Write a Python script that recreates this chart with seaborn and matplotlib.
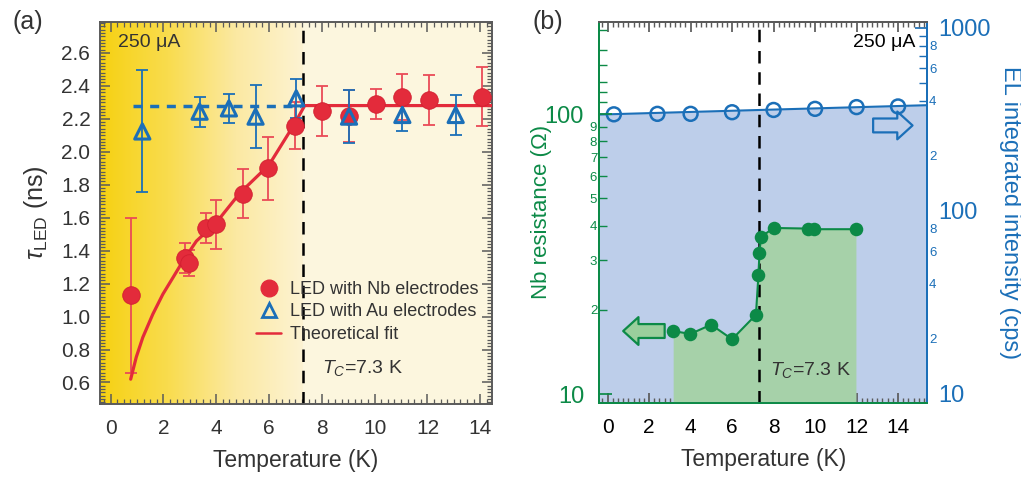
import matplotlib
matplotlib.use("Agg")
import matplotlib.pyplot as plt
import numpy as np
import seaborn as sns
from matplotlib.colors import LinearSegmentedColormap
from matplotlib.lines import Line2D
from matplotlib.ticker import MultipleLocator, FixedLocator, FixedFormatter

# ---- panel (a): LED lifetime vs temperature ----
nb_T = [0.78, 2.8, 2.97, 3.6, 4.0, 5.0, 5.95, 7.0, 8.02, 9.03, 10.04, 11.05, 12.06, 14.08]
nb_tau = [1.13, 1.357, 1.323, 1.538, 1.559, 1.746, 1.90, 2.159, 2.248, 2.217, 2.29, 2.334, 2.314, 2.334]
nb_err = [0.47, 0.09, 0.08, 0.09, 0.15, 0.15, 0.19, 0.14, 0.15, 0.16, 0.09, 0.14, 0.15, 0.18]

au_T = [1.2, 3.37, 4.48, 5.49, 7.03, 9.03, 11.05, 13.07]
au_tau = [2.123, 2.243, 2.263, 2.213, 2.324, 2.213, 2.223, 2.223]
au_err = [0.37, 0.09, 0.09, 0.19, 0.12, 0.16, 0.10, 0.12]
au_level_T = [0.85, 7.2]
au_level = [2.278, 2.278]

fit_T = [0.76, 0.97, 1.22, 1.6, 1.98, 2.36, 2.74, 3.25, 4.0, 4.9, 6.0, 6.97, 7.35, 14.45]
fit_tau = [0.62, 0.753, 0.874, 1.015, 1.136, 1.236, 1.337, 1.458, 1.57, 1.75, 1.92, 2.17, 2.28, 2.28]

TC = 7.3

# ---- panel (b): Nb resistance and EL intensity ----
res_T = [3.16, 3.99, 4.99, 6.0, 7.15, 7.27, 7.32, 7.39, 8.0, 9.68, 9.95, 11.97]
res_ohm = [16.8, 16.4, 17.7, 15.7, 19.2, 26.6, 31.9, 36.4, 39.2, 39.0, 38.8, 38.8]

el_T = [0.3, 2.4, 4.0, 6.0, 8.0, 10.0, 12.0, 14.0]
el_cps = [337, 339, 339, 346, 356, 361, 369, 372]
el_line_T = [-0.4, 15.4]
el_line_cps = [336, 378]

RED = "#E32B3B"
RED_ERR = "#EA4B57"
BLUE = "#1B6FB8"
GREEN = "#0C8A47"
GREEN_FILL = "#A6D1A9"
BLUE_FILL = "#BDCEEA"
DARK = "#333333"
SPINE = "#5A5A5A"

sns.set_theme(style="ticks")
plt.rcParams["font.family"] = ["Liberation Sans", "DejaVu Sans"]
plt.rcParams["mathtext.fontset"] = "custom"
plt.rcParams["mathtext.rm"] = "Liberation Sans"
plt.rcParams["mathtext.it"] = "Liberation Sans:italic"
plt.rcParams["mathtext.bf"] = "Liberation Sans:bold"

fig = plt.figure(figsize=(10.21, 4.78), dpi=100)

# ================= panel (a) =================
ax = fig.add_axes([0.098, 0.155, 0.384, 0.800])
xlo, xhi = -0.4, 14.45
ylo, yhi = 0.47, 2.79
ax.set_xlim(xlo, xhi)
ax.set_ylim(ylo, yhi)

# yellow gradient background up to Tc, cream after
cmap = LinearSegmentedColormap.from_list(
    "sun", ["#F6D112", "#F9DC4E", "#FBE9A2", "#FDF3D3"])
ax.imshow(np.linspace(0, 1, 256)[None, :], extent=[xlo, TC, ylo, yhi],
          cmap=cmap, aspect="auto", zorder=0)
ax.axvspan(TC, xhi, color="#FCF6DE", zorder=0, lw=0)
ax.axvline(TC, color="black", lw=1.8, ls=(0, (5, 3.5)), zorder=2)

ax.errorbar(nb_T, nb_tau, yerr=nb_err, fmt="none", ecolor=RED_ERR,
            elinewidth=1.3, capsize=4.5, capthick=1.3, zorder=3)
sns.lineplot(x=fit_T, y=fit_tau, ax=ax, color=RED, lw=2.3, sort=False,
             estimator=None, zorder=4)
ax.errorbar(au_T, au_tau, yerr=au_err, fmt="none", ecolor=BLUE,
            elinewidth=1.3, capsize=4.5, capthick=1.3, zorder=5)
sns.lineplot(x=au_level_T, y=au_level, ax=ax, color=BLUE, lw=2.5,
             ls=(0, (2.6, 2.2)), estimator=None, zorder=5)
sns.scatterplot(x=nb_T, y=nb_tau, ax=ax, color=RED, s=160,
                edgecolor="#D21F30", linewidth=0.6, zorder=6)
sns.scatterplot(x=au_T, y=au_tau, ax=ax, marker="^", s=120,
                facecolor="none", edgecolor=BLUE, linewidth=2.2, zorder=7)

ax.text(0.046, 0.945, "250 μA", transform=ax.transAxes, fontsize=14,
        color=DARK, va="center", ha="left")
ax.text(0.566, 0.094, "$T_C$=7.3 K", transform=ax.transAxes, fontsize=14,
        color=DARK, va="center", ha="left")

handles = [
    Line2D([], [], ls="none", marker="o", ms=12, color=RED),
    Line2D([], [], ls="none", marker="^", ms=10, mfc="none", mec=BLUE, mew=2),
    Line2D([], [], color=RED, lw=1.8),
]
ax.legend(handles, ["LED with Nb electrodes", "LED with Au electrodes",
                    "Theoretical fit"],
          loc="upper left", bbox_to_anchor=(0.375, 0.345), frameon=False,
          fontsize=13, labelspacing=0.3, handlelength=1.4,
          handletextpad=0.45, borderpad=0, labelcolor=DARK)

ax.set_xlabel("Temperature (K)", fontsize=16.5, color=DARK, labelpad=8)
ax.set_ylabel(r"$\tau_{\mathrm{LED}}$ (ns)", fontsize=18, color=DARK, labelpad=8)
ax.xaxis.set_major_locator(MultipleLocator(2))
ax.xaxis.set_minor_locator(MultipleLocator(0.25))
ax.yaxis.set_major_locator(MultipleLocator(0.2))
ax.yaxis.set_minor_locator(MultipleLocator(0.02))
ax.yaxis.set_major_formatter(matplotlib.ticker.FormatStrFormatter("%.1f"))
ax.tick_params(which="both", direction="in", top=True, right=True,
               colors=SPINE, labelcolor=DARK, labelsize=15)
ax.tick_params(which="major", length=7, width=1.1)
ax.tick_params(which="minor", length=3.5, width=0.9)
ax.tick_params(axis="x", which="both", pad=11)
ax.tick_params(axis="y", which="both", pad=7)
for s in ax.spines.values():
    s.set_color(SPINE)
    s.set_linewidth(1.4)

# ================= panel (b) =================
axb = fig.add_axes([0.587, 0.157, 0.321, 0.798])
axr = axb.twinx()
axr.set_zorder(axb.get_zorder() - 1)
axb.patch.set_visible(False)

axb.set_xlim(-0.4, 15.4)
axb.set_yscale("log")
axr.set_yscale("log")
axb.set_ylim(9.3, 214)
axr.set_ylim(8.93, 1083)

# EL intensity (right axis), drawn underneath
axr.fill_between(el_line_T, el_line_cps, axr.get_ylim()[0], color=BLUE_FILL,
                 lw=0, zorder=1)
sns.lineplot(x=el_line_T, y=el_line_cps, ax=axr, color=BLUE, lw=1.5,
             estimator=None, zorder=2)
sns.scatterplot(x=el_T, y=el_cps, ax=axr, s=100, facecolor="none",
                edgecolor=BLUE, linewidth=1.8, zorder=3)
axr.annotate("", xy=(14.7, 293), xytext=(12.8, 293),
             arrowprops=dict(arrowstyle="simple,head_length=0.55,head_width=1.0,tail_width=0.5",
                             fc="none", ec=BLUE, lw=1.6, mutation_scale=20,
                             shrinkA=0, shrinkB=0), zorder=4)

# Nb resistance (left axis)
axb.fill_between(res_T, res_ohm, axb.get_ylim()[0], color=GREEN_FILL,
                 lw=0, zorder=1)
sns.lineplot(x=res_T, y=res_ohm, ax=axb, color=GREEN, lw=1.5, sort=False,
             estimator=None, zorder=3)
sns.scatterplot(x=res_T, y=res_ohm, ax=axb, color=GREEN, s=95,
                edgecolor=GREEN, linewidth=0, zorder=4)
axb.annotate("", xy=(0.75, 16.8), xytext=(2.75, 16.8),
             arrowprops=dict(arrowstyle="simple,head_length=0.55,head_width=1.0,tail_width=0.5",
                             fc="#9ACF9C", ec=GREEN, lw=1.6, mutation_scale=20,
                             shrinkA=0, shrinkB=0), zorder=4)
axb.axvline(TC, color="black", lw=1.8, ls=(0, (5, 3.5)), zorder=2)

axb.text(0.963, 0.945, "250 μA", transform=axb.transAxes, fontsize=14,
         color="black", va="center", ha="right")
axb.text(0.52, 0.087, "$T_C$=7.3 K", transform=axb.transAxes, fontsize=14,
         color=DARK, va="center", ha="left")

axb.set_xlabel("Temperature (K)", fontsize=16.5, color=DARK, labelpad=8)
axb.set_ylabel("Nb resistance (Ω)", fontsize=16, color=GREEN)
axb.yaxis.set_label_coords(-0.145, 0.5)
axr.set_ylabel("EL integrated intensity (cps)", fontsize=17, color=BLUE,
               rotation=270, va="bottom", labelpad=6)

axb.xaxis.set_major_locator(MultipleLocator(2))
axb.xaxis.set_minor_locator(MultipleLocator(0.25))
axb.tick_params(axis="x", which="both", direction="in", top=True,
                colors=SPINE, labelcolor="black", labelsize=15, pad=11)
axb.tick_params(axis="x", which="major", length=7)
axb.tick_params(axis="x", which="minor", length=3.5)

left_minor = [20, 30, 40, 50, 60, 70, 80, 90, 110, 120, 130, 150, 170, 200]
left_minor_lab = ["2", "3", "4", "5", "6", "7", "8", "9", "", "", "", "", "", ""]
axb.yaxis.set_major_locator(FixedLocator([10, 100]))
axb.yaxis.set_major_formatter(FixedFormatter(["10", "100"]))
axb.yaxis.set_minor_locator(FixedLocator(left_minor))
axb.yaxis.set_minor_formatter(FixedFormatter(left_minor_lab))
axb.tick_params(axis="y", which="both", direction="in", colors=GREEN)
axb.tick_params(axis="y", which="major", length=9, labelsize=17, pad=11)
axb.tick_params(axis="y", which="minor", length=6, labelsize=9.5, pad=1.5)

right_minor = [20, 30, 40, 50, 60, 70, 80, 90, 200, 300, 400, 500, 600, 700, 800, 900]
right_minor_lab = ["2", "", "4", "", "6", "", "8", "", "2", "", "4", "", "6", "", "8", ""]
axr.yaxis.set_major_locator(FixedLocator([10, 100, 1000]))
axr.yaxis.set_major_formatter(FixedFormatter(["10", "100", "1000"]))
axr.yaxis.set_minor_locator(FixedLocator(right_minor))
axr.yaxis.set_minor_formatter(FixedFormatter(right_minor_lab))
axr.tick_params(axis="y", which="both", direction="in", colors=BLUE)
axr.tick_params(axis="y", which="major", length=9, labelsize=17, pad=8)
axr.tick_params(axis="y", which="minor", length=6, labelsize=9.5, pad=1.5)

for a in (axb, axr):
    for s in a.spines.values():
        s.set_linewidth(1.4)
    a.spines["left"].set_color(GREEN)
    a.spines["bottom"].set_color(GREEN)
    a.spines["top"].set_color(SPINE)
    a.spines["right"].set_color(BLUE)

fig.text(0.012, 0.955, "(a)", fontsize=18, color=DARK, va="center")
fig.text(0.522, 0.955, "(b)", fontsize=18, color=DARK, va="center")

fig.savefig("out.png", dpi=100)
